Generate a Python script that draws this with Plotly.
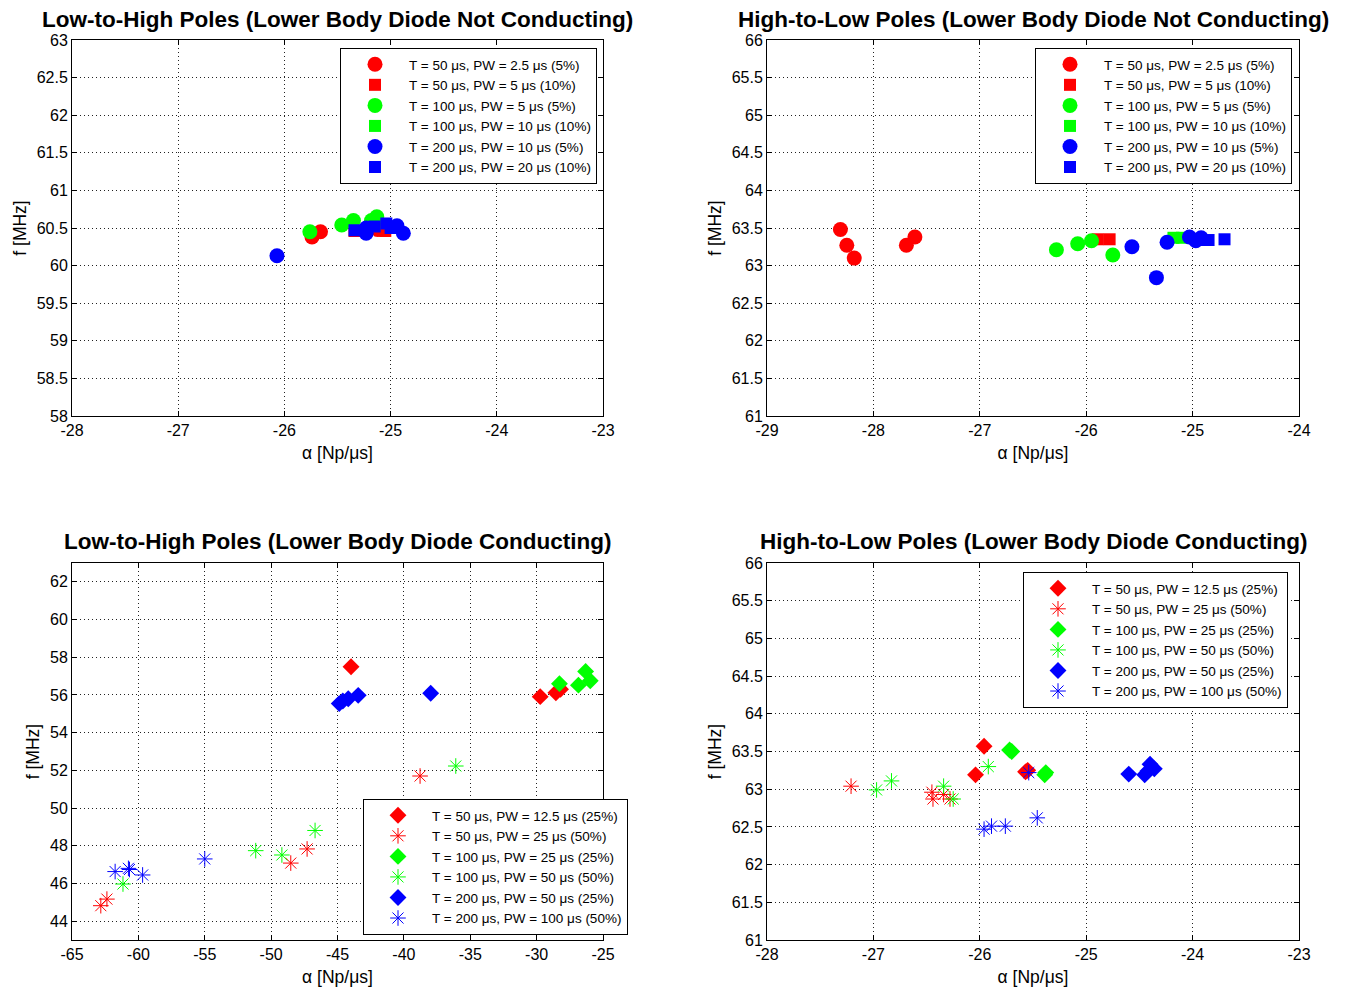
import plotly.graph_objects as go

# ---------------- Data ----------------
# Top-left: Low-to-High (Not Conducting)
tl_labels = ["T = 50 \u03bcs, PW = 2.5 \u03bcs (5%)", "T = 50 \u03bcs, PW = 5 \u03bcs (10%)",
             "T = 100 \u03bcs, PW = 5 \u03bcs (5%)", "T = 100 \u03bcs, PW = 10 \u03bcs (10%)",
             "T = 200 \u03bcs, PW = 10 \u03bcs (5%)", "T = 200 \u03bcs, PW = 20 \u03bcs (10%)"]
tl_x = [[-25.74, -25.66, -25.12],
        [-25.34, -25.10, -25.05],
        [-25.76, -25.46, -25.35, -25.18, -25.13],
        [-25.15],
        [-26.07, -25.23, -25.23, -24.94, -24.88],
        [-25.34, -25.15, -25.04, -25.00]]
tl_y = [[60.38, 60.45, 60.48],
        [60.46, 60.47, 60.46],
        [60.45, 60.54, 60.60, 60.60, 60.65],
        [60.56],
        [60.13, 60.50, 60.43, 60.53, 60.43],
        [60.47, 60.52, 60.56, 60.50]]

# Top-right: High-to-Low (Not Conducting)
tr_x = [[-28.31, -28.25, -28.18, -27.69, -27.61],
        [-25.89, -25.78],
        [-26.28, -26.08, -25.95, -25.75],
        [-25.18, -25.10],
        [-25.57, -25.34, -25.24, -25.03, -24.92, -24.97],
        [-24.94, -24.85, -24.70]]
tr_y = [[63.48, 63.27, 63.10, 63.27, 63.38],
        [63.35, 63.35],
        [63.21, 63.29, 63.33, 63.14],
        [63.37, 63.37],
        [63.25, 62.84, 63.31, 63.38, 63.37, 63.33],
        [63.34, 63.34, 63.35]]

# Bottom labels
b_labels = ["T = 50 \u03bcs, PW = 12.5 \u03bcs (25%)", "T = 50 \u03bcs, PW = 25 \u03bcs (50%)",
            "T = 100 \u03bcs, PW = 25 \u03bcs (25%)", "T = 100 \u03bcs, PW = 50 \u03bcs (50%)",
            "T = 200 \u03bcs, PW = 50 \u03bcs (25%)", "T = 200 \u03bcs, PW = 100 \u03bcs (50%)"]

# Bottom-left: Low-to-High (Conducting)
bl_x = [[-43.98, -29.73, -28.55, -28.20],
        [-62.83, -62.37, -48.52, -47.29, -38.78],
        [-28.28, -26.85, -26.31, -25.96],
        [-61.16, -51.16, -49.19, -46.69, -36.09],
        [-44.87, -44.60, -44.19, -43.44, -37.98],
        [-61.75, -60.67, -60.75, -59.68, -55.00]]
bl_y = [[57.50, 55.91, 56.12, 56.30],
        [44.82, 45.17, 47.08, 47.83, 51.70],
        [56.60, 56.52, 57.25, 56.75],
        [45.97, 47.74, 47.51, 48.81, 52.23],
        [55.54, 55.68, 55.80, 55.98, 56.09],
        [46.63, 46.74, 46.80, 46.45, 47.30]]

# Bottom-right: High-to-Low (Conducting)
br_x = [[-26.04, -25.96, -25.57, -25.55],
        [-27.21, -26.45, -26.44, -26.34, -26.28],
        [-25.72, -25.70, -25.39, -25.38],
        [-26.97, -26.83, -26.34, -26.25, -25.92],
        [-24.60, -24.45, -24.40, -24.36, -24.42],
        [-25.54, -25.96, -25.89, -25.76, -25.46]]
br_y = [[63.19, 63.57, 63.23, 63.25],
        [63.04, 62.96, 62.87, 62.93, 62.87],
        [63.52, 63.50, 63.19, 63.22],
        [62.99, 63.11, 63.04, 62.87, 63.30],
        [63.20, 63.19, 63.33, 63.27, 63.24],
        [63.22, 62.47, 62.51, 62.51, 62.62]]

# Tick values
tl_xticks = [-28, -27, -26, -25, -24, -23]
tl_yticks = [58, 58.5, 59, 59.5, 60, 60.5, 61, 61.5, 62, 62.5, 63]
tr_xticks = [-29, -28, -27, -26, -25, -24]
tr_yticks = [61, 61.5, 62, 62.5, 63, 63.5, 64, 64.5, 65, 65.5, 66]
bl_xticks = [-65, -60, -55, -50, -45, -40, -35, -30, -25]
bl_yticks = [44, 46, 48, 50, 52, 54, 56, 58, 60, 62]
br_xticks = [-28, -27, -26, -25, -24, -23]
br_yticks = [61, 61.5, 62, 62.5, 63, 63.5, 64, 64.5, 65, 65.5, 66]

colors = ["#FF0000", "#FF0000", "#00FF00", "#00FF00", "#0000FF", "#0000FF"]
top_symbols = ["circle", "square", "circle", "square", "circle", "square"]
top_sizes = [15, 12, 15, 12, 15, 12]
bot_symbols = ["diamond", "asterisk-open", "diamond", "asterisk-open", "diamond", "asterisk-open"]
bot_sizes = [13, 13, 13, 13, 13, 13]

FONT = "Liberation Sans, Arial, Helvetica, sans-serif"

fig = go.Figure()

def add_series(xs, ys, labels, symbols, sizes, xa, ya, legend):
    for i in range(6):
        marker = dict(color=colors[i], symbol=symbols[i], size=sizes[i])
        if "asterisk" in symbols[i]:
            marker["line"] = dict(color=colors[i], width=1)
        else:
            marker["line"] = dict(width=0)
        fig.add_trace(go.Scatter(x=xs[i], y=ys[i], mode="markers", name=labels[i],
                                 marker=marker, xaxis=xa, yaxis=ya, legend=legend,
                                 showlegend=True))

add_series(tl_x, tl_y, tl_labels, top_symbols, top_sizes, "x", "y", "legend")
add_series(tr_x, tr_y, tl_labels, top_symbols, top_sizes, "x2", "y2", "legend2")
add_series(bl_x, bl_y, b_labels, bot_symbols, bot_sizes, "x3", "y3", "legend3")
add_series(br_x, br_y, b_labels, bot_symbols, bot_sizes, "x4", "y4", "legend4")

# page body has an 8px margin: shift everything by it
OFF = 8
W, H = 1346 - OFF, 991 - OFF
def px_x(p): return (p - OFF) / W
def px_y(p): return 1 - (p - OFF) / H

def fmt(v):
    return "%g" % v  # plain hyphen-minus like the reference

axis_common = dict(showline=True, linecolor="black", linewidth=1, mirror="allticks",
                   ticks="inside", ticklen=5, tickcolor="black",
                   showgrid=True, gridcolor="#222222", griddash="1px,3px", gridwidth=1,
                   zeroline=False, tickfont=dict(family=FONT, size=16, color="black"),
                   automargin=False)

def ax(dom, anchor, rng, ticks, title):
    return dict(domain=dom, anchor=anchor, range=rng, tickmode="array",
                tickvals=ticks, ticktext=[fmt(t) for t in ticks], title=title, **axis_common)

xdom_l = [px_x(72), px_x(603)]
xdom_r = [px_x(767), px_x(1299)]
ydom_t = [px_y(416), px_y(40)]
ydom_b = [px_y(940), px_y(563)]

xtitle = dict(text="\u03b1 [Np/\u03bcs]", font=dict(family=FONT, size=17.5, color="black"), standoff=8)
ytitle = dict(text="f [MHz]", font=dict(family=FONT, size=17.5, color="black"), standoff=5)

fig.update_layout(
    xaxis=ax(xdom_l, "y", [-28, -23], tl_xticks, xtitle),
    yaxis=ax(ydom_t, "x", [58, 63], tl_yticks, ytitle),
    xaxis2=ax(xdom_r, "y2", [-29, -24], tr_xticks, xtitle),
    yaxis2=ax(ydom_t, "x2", [61, 66], tr_yticks, ytitle),
    xaxis3=ax(xdom_l, "y3", [-65, -25], bl_xticks, xtitle),
    yaxis3=ax(ydom_b, "x3", [43, 63], bl_yticks, ytitle),
    xaxis4=ax(xdom_r, "y4", [-28, -23], br_xticks, xtitle),
    yaxis4=ax(ydom_b, "x4", [61, 66], br_yticks, ytitle),
)

leg_common = dict(bgcolor="white", bordercolor="black", borderwidth=1,
                  font=dict(family=FONT, size=13.5, color="black"),
                  tracegroupgap=0, itemsizing="trace", itemwidth=58)
fig.update_layout(
    legend=dict(x=px_x(597), y=px_y(48), xanchor="right", yanchor="top", **leg_common),
    legend2=dict(x=px_x(1292), y=px_y(48), xanchor="right", yanchor="top", **leg_common),
    legend3=dict(x=px_x(628), y=px_y(935), xanchor="right", yanchor="bottom", **leg_common),
    legend4=dict(x=px_x(1288), y=px_y(572), xanchor="right", yanchor="top", **leg_common),
)

titles = [("Low-to-High Poles (Lower Body Diode Not Conducting)", (72 + 603) / 2, 19),
          ("High-to-Low Poles (Lower Body Diode Not Conducting)", (767 + 1299) / 2, 19),
          ("Low-to-High Poles (Lower Body Diode Conducting)", (72 + 603) / 2, 541),
          ("High-to-Low Poles (Lower Body Diode Conducting)", (767 + 1299) / 2, 541)]
for text, cx, cy in titles:
    fig.add_annotation(text="<b>" + text + "</b>", x=px_x(cx), y=px_y(cy), xref="paper", yref="paper",
                       xanchor="center", yanchor="middle", showarrow=False,
                       font=dict(family=FONT, size=22.5, color="black"))

fig.update_layout(width=W, height=H, margin=dict(l=0, r=0, t=0, b=0),
                  paper_bgcolor="white", plot_bgcolor="white", showlegend=True)

fig.write_html("out.html")
